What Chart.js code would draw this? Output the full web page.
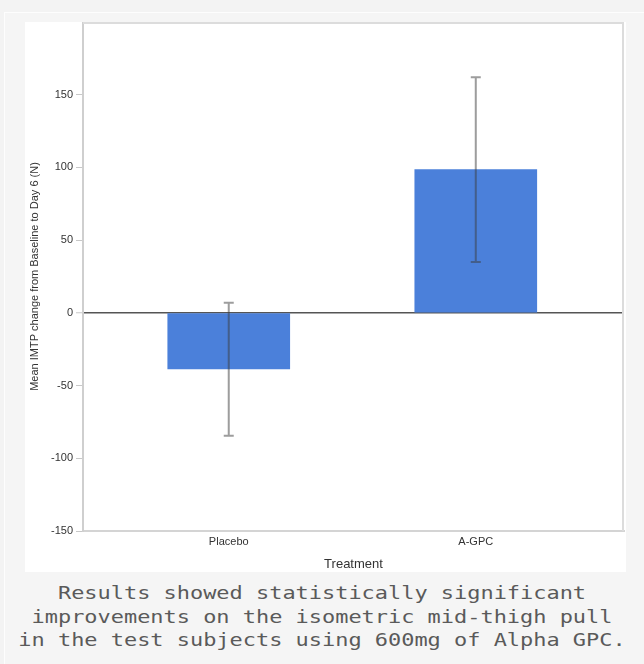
<!DOCTYPE html>
<html>
<head>
<meta charset="utf-8">
<script src="https://cdn.jsdelivr.net/npm/chart.js@4.4.0/dist/chart.umd.min.js"></script>
<style>
  html, body { margin: 0; padding: 0; background: #f3f3f3; }
  body { width: 644px; height: 664px; position: relative; overflow: hidden; }
  #outer { position: absolute; left: 4px; top: 12px; width: 660px; height: 680px;
           background: #f5f5f5; border-top: 1px solid #fdfdfd; border-left: 1px solid #fdfdfd; }
  #panel { position: absolute; left: 25px; top: 22px; width: 601px; height: 550px; background: #fff; }
  #caption { position: absolute; left: 0; top: 582px; width: 644px; text-align: center;
             font-family: "DejaVu Sans Mono", monospace; font-size: 17px; line-height: 23.5px;
             color: #5a5a5a; transform: scaleX(1.29); transform-origin: 322px 0; }
</style>
</head>
<body>
<div id="outer"></div>
<div id="panel"><canvas id="myChart" width="601" height="550"></canvas></div>
<div id="caption">Results showed statistically significant<br>improvements on the isometric mid-thigh pull<br>in the test subjects using 600mg of Alpha GPC.</div>
<script>
const categories = ['Placebo', 'A-GPC'];
const meanChange = [-38.5, 98.5];
const errLow = [-84.5, 35];
const errHigh = [7, 162];
const yTicks = [-150, -100, -50, 0, 50, 100, 150];

// error bars + frame drawn with the chart's own scales
const extras = {
  id: 'extras',
  afterDatasetsDraw(chart) {
    const {ctx, chartArea, scales: {x, y}} = chart;
    ctx.save();
    ctx.strokeStyle = 'rgba(60,60,60,0.5)';
    ctx.lineWidth = 2;
    categories.forEach((c, i) => {
      const px = x.getPixelForValue(i);
      const top = y.getPixelForValue(errHigh[i]);
      const bot = y.getPixelForValue(errLow[i]);
      ctx.beginPath();
      ctx.moveTo(px, top); ctx.lineTo(px, bot);
      ctx.moveTo(px - 5, top); ctx.lineTo(px + 5, top);
      ctx.moveTo(px - 5, bot); ctx.lineTo(px + 5, bot);
      ctx.stroke();
    });
    ctx.strokeStyle = '#dcdcdc';
    ctx.lineWidth = 2;
    ctx.beginPath();
    ctx.moveTo(chartArea.left, chartArea.top + 1);
    ctx.lineTo(chartArea.right - 1, chartArea.top + 1);
    ctx.lineTo(chartArea.right - 1, chartArea.bottom);
    ctx.stroke();
    ctx.restore();
  }
};

let ctx = document.getElementById('myChart').getContext('2d');
let myChart = new Chart(ctx, {
  type: 'bar',
  data: {
    datasets: [{
      data: meanChange.map((v, i) => ({x: i, y: v})),
      backgroundColor: '#4b80da',
      barThickness: 122
    }]
  },
  plugins: [extras],
  options: {
    responsive: false,
    animation: false,
    layout: { padding: { top: 0, right: 2, left: 0, bottom: 0 } },
    plugins: { legend: { display: false }, tooltip: { enabled: false } },
    scales: {
      x: {
        type: 'linear',
        offset: false,
        min: -0.59,
        max: 1.6,
        afterBuildTicks: s => { s.ticks = categories.map((c, i) => ({value: i})); },
        afterFit: s => { s.height = 41; },
        ticks: {
          callback: v => categories[v],
          font: { family: 'Liberation Sans', size: 11 },
          color: '#333',
          padding: 4,
          maxRotation: 0
        },
        grid: { display: false, drawTicks: false },
        border: { display: true, color: '#d4d4d4', width: 2 },
        title: {
          display: true,
          text: 'Treatment',
          font: { family: 'Liberation Sans', size: 13 },
          color: '#333',
          padding: { top: -2, bottom: 0 }
        }
      },
      y: {
        min: -150,
        max: 200,
        afterBuildTicks: s => { s.ticks = yTicks.map(v => ({value: v})); },
        afterFit: s => { s.width = 58; s.paddingTop = 0; s.paddingBottom = 0; },
        ticks: {
          font: { family: 'Liberation Sans', size: 11 },
          color: '#333',
          padding: 3
        },
        grid: {
          color: c => (c.tick && c.tick.value === 0) ? '#555' : 'transparent',
          lineWidth: c => (c.tick && c.tick.value === 0) ? 1.5 : 1,
          tickColor: '#c8c8c8',
          tickWidth: 1,
          tickLength: 7
        },
        border: { display: true, color: '#cfcfcf', width: 2 },
        title: {
          display: true,
          text: 'Mean IMTP change from Baseline to Day 6 (N)',
          font: { family: 'Liberation Sans', size: 11 },
          color: '#333',
          padding: { top: 3, bottom: 0 }
        }
      }
    }
  }
});
</script>
</body>
</html>
